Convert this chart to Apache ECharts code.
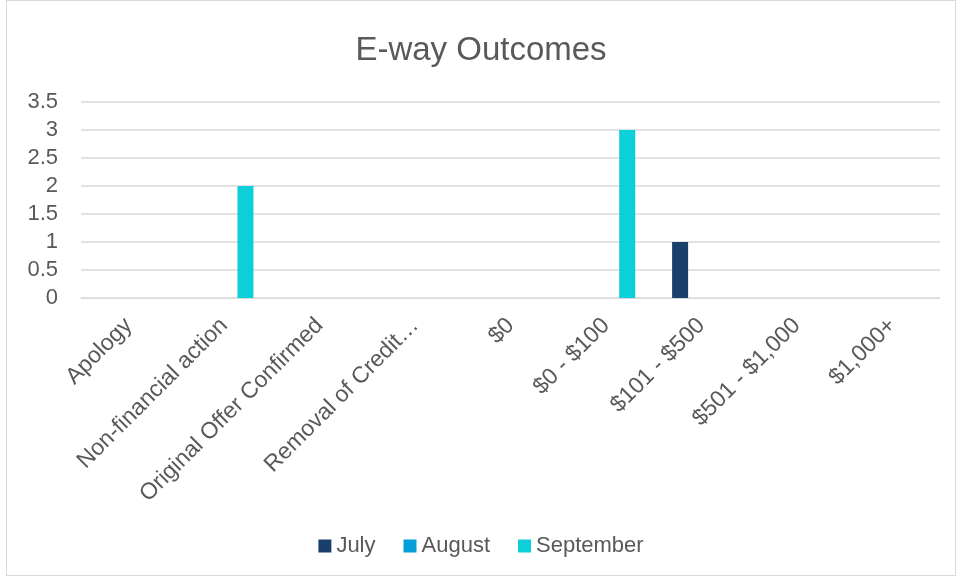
<!DOCTYPE html>
<html>
<head>
<meta charset="utf-8">
<script src="https://cdn.jsdelivr.net/npm/echarts@6/dist/echarts.min.js"></script>
<style>
  html, body { margin: 0; padding: 0; background: #fff; }
  #chart { position: absolute; left: 6px; top: 0; width: 950px; height: 576px; border: 1px solid #d9d9d9; box-sizing: border-box; }
</style>
</head>
<body>
<div id="chart"></div>
<script>
const categories = ['Apology', 'Non-financial action', 'Original Offer Confirmed', 'Removal of Credit…', '$0', '$0 - $100', '$101 - $500', '$501 - $1,000', '$1,000+']
const july = [0, 0, 0, 0, 0, 0, 1, 0, 0]
const august = [0, 0, 0, 0, 0, 0, 0, 0, 0]
const september = [0, 2, 0, 0, 0, 3, 0, 0, 0]
const yTicks = [0, 0.5, 1, 1.5, 2, 2.5, 3, 3.5]

let chart = echarts.init(document.getElementById('chart'))
const font = 'Liberation Sans, Arial, sans-serif'
let option = {
  textStyle: { fontFamily: font },
  title: {
    text: 'E-way Outcomes',
    left: 'center',
    top: 28,
    textStyle: { fontSize: 33, fontWeight: 'normal', color: '#595959', fontFamily: font }
  },
  legend: {
    bottom: 13,
    left: 'center',
    itemWidth: 13,
    itemHeight: 13,
    itemGap: 28,
    icon: 'rect',
    textStyle: { fontSize: 22, color: '#595959', fontFamily: font },
    data: ['July', 'August', 'September']
  },
  grid: { left: 74, right: 15, top: 101, bottom: 277, containLabel: false },
  xAxis: {
    type: 'category',
    data: categories,
    axisTick: { show: false },
    axisLine: { lineStyle: { color: '#d9d9d9', width: 1 } },
    axisLabel: { rotate: 45, interval: 0, fontSize: 23, color: '#595959', margin: 24, fontFamily: font }
  },
  yAxis: {
    type: 'value',
    min: 0,
    max: yTicks[yTicks.length - 1],
    interval: 0.5,
    axisLine: { show: false },
    axisTick: { show: false },
    axisLabel: { fontSize: 22, color: '#595959', margin: 23, fontFamily: font },
    splitLine: { lineStyle: { color: '#d9d9d9', width: 1.5 } }
  },
  series: [
    { name: 'July', type: 'bar', data: july, barWidth: 16, barGap: '33%', itemStyle: { color: '#1a3f6b' } },
    { name: 'August', type: 'bar', data: august, barWidth: 16, barGap: '33%', itemStyle: { color: '#049fdb' } },
    { name: 'September', type: 'bar', data: september, barWidth: 16, barGap: '33%', itemStyle: { color: '#0dcfda' } }
  ]
}
chart.setOption(option)
</script>
</body>
</html>
